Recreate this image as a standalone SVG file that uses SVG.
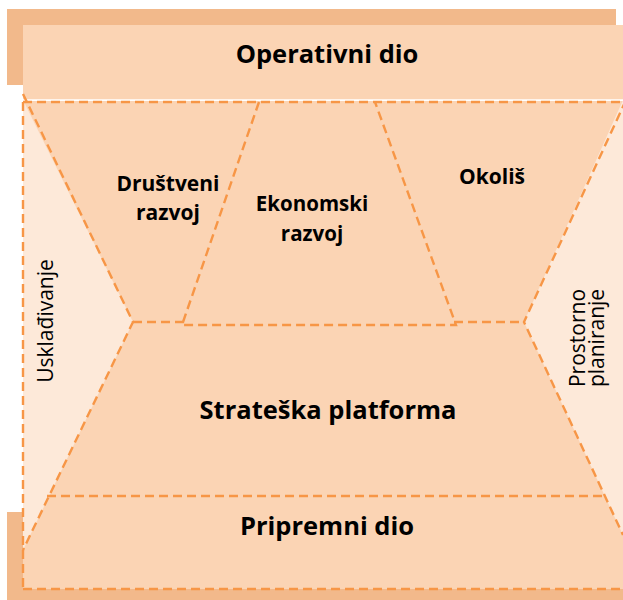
<svg xmlns="http://www.w3.org/2000/svg" width="623" height="600" viewBox="0 0 623 600">
<style>
.shadow{fill:#f2b98b}
.peach{fill:#fbd4b4}
.light{fill:#fde9d9}
.dash{fill:none;stroke:#f79646;stroke-width:2.4;stroke-dasharray:9 5}
.b{font-family:"Open Sans","Liberation Sans",sans-serif;font-weight:700;fill:#000;text-anchor:middle}
.r{font-family:"Open Sans","Liberation Sans",sans-serif;font-weight:400;fill:#000;text-anchor:middle}
</style>
<rect width="623" height="600" fill="#fff"/>
<g id="shadows">
<rect class="shadow" x="7" y="9" width="609" height="76"/>
<rect class="shadow" x="7" y="512" width="616" height="88"/>
</g>
<g id="operativni">
<rect class="peach" x="23" y="25" width="600" height="75"/>
<text class="b" x="327" y="63" font-size="25.5">Operativni dio</text>
</g>
<g id="body">
<rect class="peach" x="23" y="101" width="600" height="488"/>
</g>
<g id="uskladivanje">
<polygon class="light" points="23,100 133,322 23,550"/>
<text class="r" transform="translate(53,321) rotate(-90)" font-size="21">Usklađivanje</text>
</g>
<g id="prostorno">
<polygon class="light" points="623,100 524,322 623,535"/>
<text class="r" transform="translate(585,338) rotate(-90)" font-size="21">Prostorno</text>
<text class="r" transform="translate(604,338) rotate(-90)" font-size="21">planiranje</text>
</g>
<g id="drustveni">
<text class="b" x="168" y="191" font-size="21">Društveni</text>
<text class="b" x="168" y="220" font-size="21">razvoj</text>
</g>
<g id="ekonomski">
<text class="b" x="312" y="211" font-size="20.5">Ekonomski</text>
<text class="b" x="312" y="241" font-size="20.5">razvoj</text>
</g>
<g id="okolis">
<text class="b" x="492" y="184" font-size="21">Okoliš</text>
</g>
<g id="strateska">
<text class="b" x="328" y="419" font-size="25.5">Strateška platforma</text>
</g>
<g id="pripremni">
<text class="b" x="327" y="535" font-size="25.5">Pripremni dio</text>
</g>
<g id="connectors">
<line x1="23" y1="100" x2="623" y2="100" stroke="#fff" stroke-width="1.5"/>
<line class="dash" x1="23" y1="102" x2="623" y2="102"/>
<line class="dash" x1="23" y1="102" x2="23" y2="589"/>
<line class="dash" x1="23" y1="589" x2="623" y2="589"/>
<polyline class="dash" points="23,94 133,322 23,550"/>
<polyline class="dash" points="626,100 524,322 623,535"/>
<polyline class="dash" points="259,102 182,325 456,325 375,102"/>
<line class="dash" x1="133" y1="322" x2="184" y2="322"/>
<line class="dash" x1="454" y1="322" x2="524" y2="322"/>
<line class="dash" x1="47" y1="496" x2="605" y2="496"/>
</g>
</svg>
